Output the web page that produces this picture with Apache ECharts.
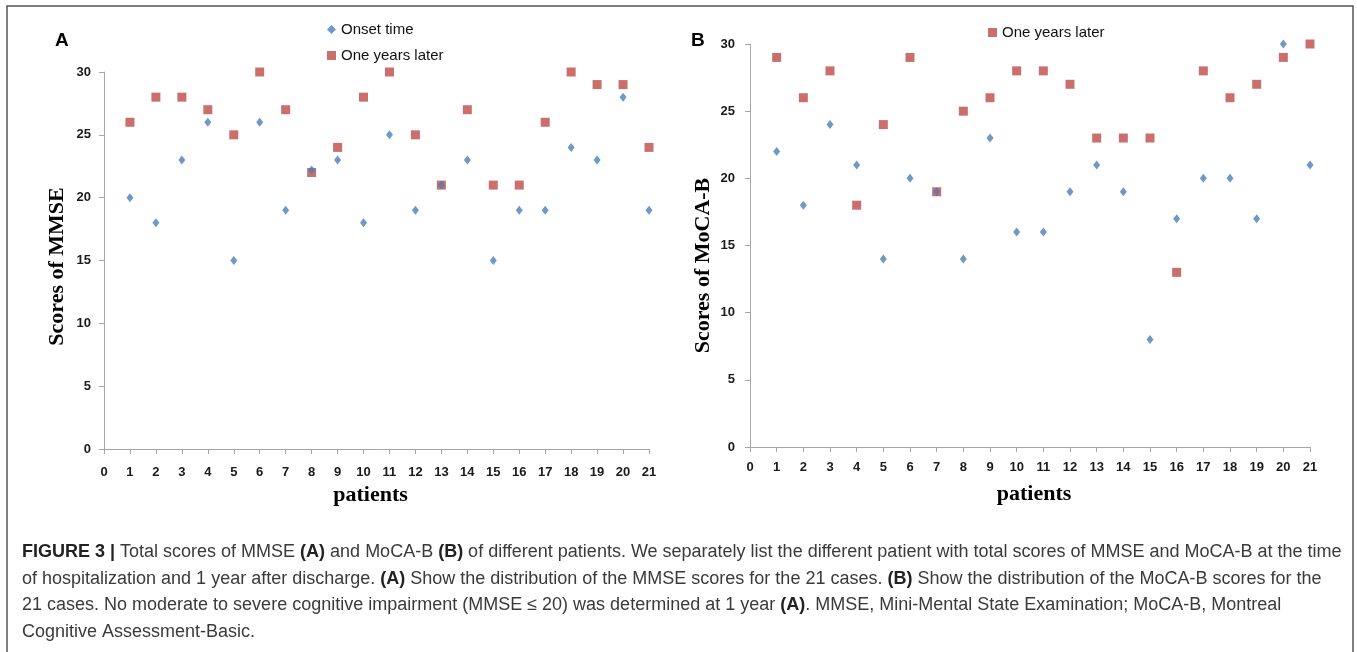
<!DOCTYPE html>
<html>
<head>
<meta charset="utf-8">
<script src="https://cdn.jsdelivr.net/npm/echarts@6/dist/echarts.min.js"></script>
<style>
html, body { margin: 0; padding: 0; background: #fff; }
#chart { width: 1357px; height: 652px; }
</style>
</head>
<body>
<div id="chart"></div>
<script>
// 数据
var patients = [1, 2, 3, 4, 5, 6, 7, 8, 9, 10, 11, 12, 13, 14, 15, 16, 17, 18, 19, 20, 21];
var mmseOnset = [20, 18, 23, 26, 15, 26, 19, 22.2, 23, 18, 25, 19, 21, 23, 15, 19, 19, 24, 23, 28, 19];
var mmseLater = [26, 28, 28, 27, 25, 30, 27, 22, 24, 28, 30, 25, 21, 27, 21, 21, 26, 30, 29, 29, 24];
var mocaOnset = [22, 18, 24, 21, 14, 20, 19, 14, 23, 16, 16, 19, 21, 19, 8, 17, 20, 20, 17, 30, 21];
var mocaLater = [29, 26, 28, 18, 24, 29, 19, 25, 26, 28, 28, 27, 23, 23, 23, 13, 28, 26, 27, 29, 30];

var blue = '#4a7ebb';
var red = '#be4b48';
var axisGray = '#a6a6a6';

function pairs(vals) {
	var out = [];
	for (var i = 0; i < patients.length; i++) {
		out.push([patients[i], vals[i]]);
	}
	return out;
}

function xAx(idx, margin, gap, pad) {
	return {
		gridIndex: idx, type: 'value', min: 0, max: 21, interval: 1,
		name: 'patients', nameLocation: 'middle', nameGap: gap,
		nameTextStyle: { fontFamily: 'Liberation Serif', fontWeight: 'bold', fontSize: 22, color: '#000', padding: pad },
		axisLine: { lineStyle: { color: axisGray } },
		axisTick: { length: 5, lineStyle: { color: axisGray } },
		axisLabel: { margin: margin, fontFamily: 'Liberation Sans', fontWeight: 'bold', fontSize: 13, color: '#1a1a1a' },
		splitLine: { show: false }
	};
}

function yAx(idx, title, margin, gap, pad) {
	return {
		gridIndex: idx, type: 'value', min: 0, max: 30, interval: 5,
		name: title, nameLocation: 'middle', nameGap: gap,
		nameTextStyle: { fontFamily: 'Liberation Serif', fontWeight: 'bold', fontSize: 22, color: '#000', padding: pad },
		axisLine: { show: true, lineStyle: { color: axisGray } },
		axisTick: { show: true, length: 5, lineStyle: { color: axisGray } },
		axisLabel: { margin: margin, fontFamily: 'Liberation Sans', fontWeight: 'bold', fontSize: 13, color: '#1a1a1a' },
		splitLine: { show: false }
	};
}

var later = { symbol: 'rect', symbolSize: 9, itemStyle: { color: red } };
var onset = { symbol: 'diamond', symbolSize: [7, 9], itemStyle: { color: blue } };
var legendText = { fontFamily: 'Liberation Sans', fontSize: 15, color: '#111' };

var chart = echarts.init(document.getElementById('chart'));
chart.setOption({
	animation: false,
	title: [
		{ text: 'A', left: 50, top: 26, textStyle: { fontFamily: 'Liberation Sans', fontWeight: 'bold', fontSize: 19, color: '#000' } },
		{ text: 'B', left: 686, top: 26, textStyle: { fontFamily: 'Liberation Sans', fontWeight: 'bold', fontSize: 19, color: '#000' } }
	],
	legend: [
		{
			data: [{ name: 'Onset time', icon: 'diamond' }, { name: 'One years later', icon: 'rect' }],
			orient: 'vertical', left: 322, top: 17, itemWidth: 9, itemHeight: 9, itemGap: 11,
			textStyle: legendText, selectedMode: false
		},
		{
			data: [{ name: 'One years later', icon: 'rect' }],
			left: 983, top: 20, itemWidth: 9, itemHeight: 9,
			textStyle: legendText, selectedMode: false
		}
	],
	grid: [
		{ left: 104, top: 72, width: 545, height: 377 },
		{ left: 750, top: 44, width: 560, height: 403 }
	],
	xAxis: [xAx(0, 17, 34, [0, 12, 0, 0]), xAx(1, 14, 36, [0, 0, 0, 8])],
	yAxis: [yAx(0, 'Scores of MMSE', 13, 36, [0, 12, 0, 0]), yAx(1, 'Scores of MoCA-B', 15, 36, [0, 40, 0, 0])],
	series: [
		Object.assign({ name: 'One years later', type: 'scatter', xAxisIndex: 0, yAxisIndex: 0, data: pairs(mmseLater) }, later),
		Object.assign({ name: 'Onset time', type: 'scatter', xAxisIndex: 0, yAxisIndex: 0, data: pairs(mmseOnset) }, onset),
		Object.assign({ name: 'One years later', type: 'scatter', xAxisIndex: 1, yAxisIndex: 1, data: pairs(mocaLater) }, later),
		Object.assign({ name: 'Onset time', type: 'scatter', xAxisIndex: 1, yAxisIndex: 1, data: pairs(mocaOnset) }, onset)
	],
	graphic: [
		// 外框
		{ type: 'rect', shape: { x: 7, y: 6, width: 1346, height: 700 }, style: { fill: 'none', stroke: '#555', lineWidth: 1.5 }, silent: true },
		{
			type: 'text', left: 22, top: 539,
			style: {
				text: '{b|FIGURE 3 |} Total scores of MMSE {b|(A)} and MoCA-B {b|(B)} of different patients. We separately list the different patient with total scores of MMSE and MoCA-B at the time\n' +
					'of hospitalization and 1 year after discharge. {b|(A)} Show the distribution of the MMSE scores for the 21 cases. {b|(B)} Show the distribution of the MoCA-B scores for the\n' +
					'21 cases. No moderate to severe cognitive impairment (MMSE ≤ 20) was determined at 1 year {b|(A)}. MMSE, Mini-Mental State Examination; MoCA-B, Montreal\n' +
					'Cognitive Assessment-Basic.',
				fontFamily: 'Liberation Sans', fontSize: 18, lineHeight: 26.5, fill: '#3a3a3a',
				rich: {
					b: { fontFamily: 'Liberation Sans', fontWeight: 'bold', fontSize: 18, lineHeight: 26.5, fill: '#222' }
				}
			}
		}
	]
});
</script>
</body>
</html>
